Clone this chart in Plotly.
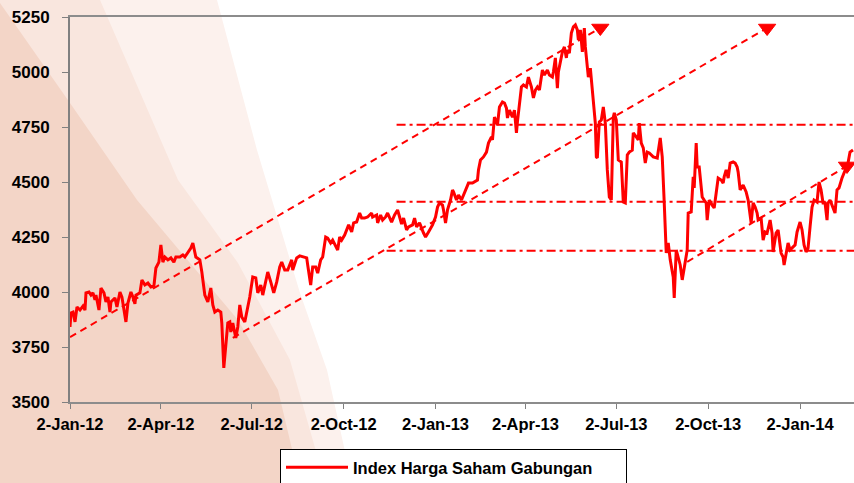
import plotly.graph_objects as go
import pandas as pd

# ---------------- data ----------------
start_date = "2012-01-02"
# trading days, counted in calendar days from start_date
day_offsets = [
    0, 1, 3, 5, 7, 10, 13, 15, 16, 19,
    21, 23, 25, 26, 29, 31, 34, 36, 38, 40,
    41, 45, 47, 50, 52, 55, 56, 58, 61, 63,
    65, 66, 70, 72, 75, 78, 81, 84, 86, 89,
    91, 93, 95, 98, 101, 104, 106, 110, 113, 115,
    118, 121, 123, 126, 130, 132, 135, 138, 141, 143,
    145, 148, 151, 152, 154, 156, 158, 160, 161, 163,
    166, 168, 170, 172, 175, 178, 180, 183, 186, 188,
    191, 193, 196, 198, 201, 204, 207, 210, 212, 215,
    218, 220, 222, 223, 227, 230, 233, 237, 238, 241,
    243, 246, 248, 251, 253, 256, 258, 261, 263, 266,
    268, 270, 272, 275, 277, 279, 282, 284, 287, 290,
    292, 295, 298, 302, 303, 307, 308, 311, 313, 316,
    318, 322, 325, 328, 332, 334, 337, 339, 343, 345,
    347, 350, 354, 356, 359, 363, 366, 368, 370, 373,
    374, 376, 378, 381, 383, 384, 387, 389, 392, 394,
    397, 399, 403, 405, 408, 409, 411, 414, 417, 419,
    422, 423, 424, 425, 428, 430, 433, 435, 437, 438,
    440, 443, 445, 447, 448, 450, 452, 454, 457, 459,
    462, 464, 466, 468, 470, 473, 475, 478, 480, 483,
    484, 486, 488, 489, 493, 495, 497, 498, 500, 502,
    504, 506, 508, 509, 511, 513, 514, 515, 516, 518,
    519, 521, 523, 524, 526, 527, 528, 530, 532, 534,
    536, 538, 540, 542, 544, 545, 547, 549, 552, 554,
    556, 558, 560, 563, 564, 567, 569, 570, 572, 574,
    576, 578, 580, 584, 588, 591, 593, 595, 597, 599,
    601, 604, 605, 607, 609, 611, 613, 614, 616, 618,
    619, 622, 624, 625, 627, 628, 630, 633, 635, 637,
    638, 640, 643, 645, 647, 649, 652, 654, 655, 657,
    659, 661, 664, 666, 668, 669, 671, 674, 677, 679,
    682, 684, 686, 688, 689, 692, 694, 696, 698, 701,
    703, 704, 707, 709, 712, 714, 715, 717, 719, 721,
    724, 726, 728, 731, 733, 735, 737, 739, 741, 743,
    745, 748, 750, 752, 754, 756, 758, 759, 761, 764,
    766, 768, 770, 773, 775, 777, 779, 781, 784,
]
ihsg_values = [
    3841, 3905, 3909, 3864, 3932, 3918, 3936, 3918, 3996, 4000,
    3986, 3996, 3964, 3986, 3918, 4018, 3996, 3955, 3977, 3909,
    3955, 3973, 3932, 4000, 3977, 3886, 3864, 3950, 4000, 3977,
    3946, 3986, 3996, 4055, 4032, 4041, 4023, 4027, 4109, 4136,
    4214, 4136, 4159, 4146, 4155, 4136, 4159, 4159, 4168, 4159,
    4177, 4200, 4223, 4159, 4146, 4091, 3986, 3955, 4018, 3941,
    3909, 3918, 3909, 3859, 3655, 3768, 3859, 3864, 3818, 3859,
    3791, 3841, 3941, 3886, 3864, 3932, 3977, 4068, 4064, 3996,
    4032, 3986, 4046, 4091, 4046, 3996, 4046, 4114, 4136, 4100,
    4100, 4123, 4146, 4100, 4155, 4164, 4159, 4155, 4123, 4032,
    4114, 4114, 4086, 4146, 4159, 4250, 4245, 4223, 4236, 4205,
    4191, 4250, 4236, 4259, 4282, 4305, 4273, 4314, 4318, 4359,
    4336, 4336, 4341, 4359, 4341, 4350, 4314, 4350, 4327, 4341,
    4359, 4318, 4350, 4373, 4309, 4336, 4282, 4296, 4305, 4336,
    4296, 4314, 4268, 4250, 4273, 4305, 4341, 4386, 4405, 4395,
    4373, 4314, 4373, 4418, 4464, 4455, 4418, 4441, 4418, 4441,
    4477, 4495, 4495, 4500, 4509, 4555, 4600, 4614, 4636, 4677,
    4705, 4691, 4745, 4795, 4759, 4841, 4864, 4859, 4836, 4791,
    4827, 4795, 4827, 4723, 4773, 4859, 4932, 4941, 4932, 4977,
    4932, 4882, 4918, 4932, 4918, 5009, 4986, 5009, 4986, 4977,
    5000, 5064, 4927, 5000, 5091, 5114, 5064, 5100, 5086, 5177,
    5205, 5214, 5191, 5146, 5191, 5091, 5132, 5200, 5114, 5041,
    4977, 5018, 4918, 4841, 4768, 4614, 4609, 4773, 4782, 4841,
    4768, 4555, 4432, 4418, 4795, 4814, 4782, 4600, 4591, 4409,
    4405, 4623, 4636, 4645, 4723, 4705, 4691, 4768, 4677, 4655,
    4586, 4636, 4632, 4614, 4609, 4700, 4614, 4405, 4177, 4223,
    4146, 4068, 3973, 4191, 4159, 4123, 4055, 4086, 4146, 4191,
    4359, 4364, 4523, 4473, 4677, 4568, 4568, 4432, 4418, 4405,
    4327, 4418, 4395, 4382, 4450, 4518, 4509, 4495, 4523, 4555,
    4518, 4586, 4591, 4586, 4568, 4545, 4464, 4486, 4455, 4418,
    4314, 4405, 4386, 4359, 4327, 4336, 4236, 4273, 4268, 4327,
    4268, 4182, 4268, 4282, 4177, 4159, 4123, 4182, 4223, 4191,
    4205, 4214, 4273, 4318, 4282, 4214, 4182, 4200, 4296, 4386,
    4418, 4409, 4500, 4464, 4405, 4405, 4327, 4405, 4418, 4382,
    4359, 4464, 4473, 4518, 4541, 4564, 4586, 4636, 4645,
]

tick_dates = ["2012-01-02", "2012-04-02", "2012-07-02", "2012-10-02", "2013-01-02",
              "2013-04-02", "2013-07-02", "2013-10-02", "2014-01-02"]
tick_labels = ["2-Jan-12", "2-Apr-12", "2-Jul-12", "2-Oct-12", "2-Jan-13",
               "2-Apr-13", "2-Jul-13", "2-Oct-13", "2-Jan-14"]
x_end = "2014-02-25"

# rising trend channel lines (start, end)
channel_upper_dates = ["2012-01-02", "2013-06-16"]
channel_upper_values = [3795, 5200]
channel_lower_dates = ["2012-06-13", "2013-11-30"]
channel_lower_values = [3791, 5200]
short_trend_dates = ["2013-09-11", "2014-02-18"]
short_trend_values = [4137, 4573]

# horizontal support / resistance levels
level_start_dates = ["2012-11-24", "2012-11-24", "2012-11-14"]
level_values = [4760, 4410, 4188]

series_name = "Index Harga Saham Gabungan"

# ---------------- figure ----------------
W, H = 854, 483
ML, MR, MT, MB = 70, 0, 17, 81
PW, PH = W - ML - MR, H - MT - MB

dates = pd.to_datetime(start_date) + pd.to_timedelta(day_offsets, unit="D")

RED = "#FF0000"
FONT = "Liberation Sans, Arial, sans-serif"

fig = go.Figure()

fig.add_trace(go.Scatter(
    x=dates, y=ihsg_values, mode="lines", name=series_name,
    line=dict(color=RED, width=3), showlegend=True,
))

trend_lines = [(channel_upper_dates, channel_upper_values),
               (channel_lower_dates, channel_lower_values),
               (short_trend_dates, short_trend_values)]
for xs, ys in trend_lines:
    fig.add_trace(go.Scatter(
        x=xs, y=ys, mode="lines", showlegend=False, hoverinfo="skip",
        line=dict(color=RED, width=2, dash="7px,5px"),
    ))
# arrow heads at the end of each trend line
fig.add_trace(go.Scatter(
    x=[t[0][-1] for t in trend_lines], y=[t[1][-1] for t in trend_lines],
    mode="markers", showlegend=False, hoverinfo="skip",
    marker=dict(symbol="triangle-down", size=15, color=RED, opacity=1,
                line=dict(width=1, color=RED)),
))

for sd, lv in zip(level_start_dates, level_values):
    fig.add_trace(go.Scatter(
        x=[sd, x_end], y=[lv, lv], mode="lines", showlegend=False, hoverinfo="skip",
        line=dict(color=RED, width=2, dash="9px,4px,3px,4px"),
    ))


# decorative background swooshes (pixel polygons -> paper coords)
def to_paper_path(pts):
    segs = []
    for i, (px, py) in enumerate(pts):
        fx = (px - ML) / PW
        fy = (H - MB - py) / PH
        segs.append(("M" if i == 0 else "L") + f"{fx:.4f},{fy:.4f}")
    return " ".join(segs) + " Z"


bands = [
    ("#FCF1ED", [(0, 0), (217, 0), (257, 150), (300, 293), (327, 370), (352, 483), (0, 483)]),
    ("#F9E6DE", [(0, 0), (100, 0), (178, 180), (238, 263), (290, 360), (325, 483), (0, 483)]),
    ("#F3D5C7", [(0, 3), (70, 103), (137, 200), (238, 320), (278, 390), (300, 483), (0, 483)]),
]
shapes = []
for col, pts in bands:
    shapes.append(dict(type="path", xref="paper", yref="paper", path=to_paper_path(pts),
                       fillcolor=col, line=dict(width=0), layer="below"))

fig.update_layout(
    width=W, height=H,
    margin=dict(l=ML, r=MR, t=MT, b=MB, pad=0, autoexpand=False),
    paper_bgcolor="white", plot_bgcolor="rgba(0,0,0,0)",
    shapes=shapes,
    font=dict(family=FONT, color="black"),
    xaxis=dict(
        type="date", range=[start_date, x_end], automargin=False,
        tickvals=tick_dates, ticktext=tick_labels,
        tickfont=dict(family=FONT, size=16.5, color="black", weight="bold"),
        ticks="outside", ticklen=5, tickcolor="#808080", tickwidth=1,
        showline=True, linecolor="#8C8C8C", linewidth=1.5, mirror=True,
        showgrid=False, zeroline=False, ticklabelstandoff=1,
    ),
    yaxis=dict(
        range=[3500, 5250], tick0=3500, dtick=250, tickformat="d", automargin=False,
        tickfont=dict(family=FONT, size=17, color="black", weight="bold"),
        ticks="outside", ticklen=6, tickcolor="#808080", tickwidth=1,
        showline=True, linecolor="#808080", linewidth=2,
        showgrid=False, zeroline=False, ticklabelstandoff=9,
    ),
    legend=dict(
        orientation="h", x=(280 - ML) / PW, xanchor="left",
        y=(H - MB - 449) / PH, yanchor="top",
        bgcolor="white", bordercolor="black", borderwidth=1,
        font=dict(family=FONT, size=16.5, color="black", weight="bold"),
        itemwidth=62, entrywidth=268, entrywidthmode="pixels",
    ),
    showlegend=True,
)

fig.write_html(
    "out.html",
    config={"displayModeBar": False},
    post_script="document.body.style.margin='0px';document.body.style.padding='0px';",
)
